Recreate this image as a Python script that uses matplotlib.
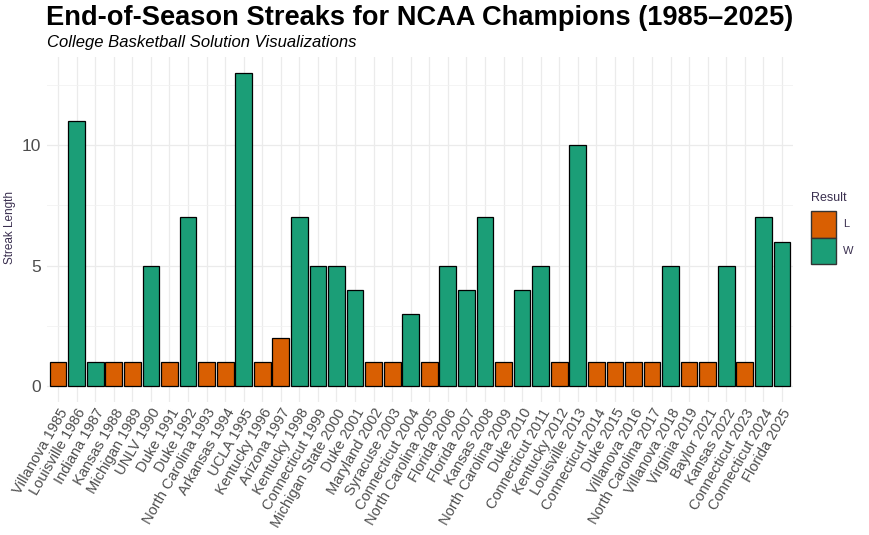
import matplotlib
matplotlib.use("Agg")
import matplotlib.pyplot as plt
from matplotlib.patches import Patch

plt.rcParams['font.family'] = ['Liberation Sans', 'DejaVu Sans']

teams = ["Villanova 1985", "Louisville 1986", "Indiana 1987", "Kansas 1988", "Michigan 1989",
         "UNLV 1990", "Duke 1991", "Duke 1992", "North Carolina 1993", "Arkansas 1994",
         "UCLA 1995", "Kentucky 1996", "Arizona 1997", "Kentucky 1998", "Connecticut 1999",
         "Michigan State 2000", "Duke 2001", "Maryland 2002", "Syracuse 2003", "Connecticut 2004",
         "North Carolina 2005", "Florida 2006", "Florida 2007", "Kansas 2008", "North Carolina 2009",
         "Duke 2010", "Connecticut 2011", "Kentucky 2012", "Louisville 2013", "Connecticut 2014",
         "Duke 2015", "Villanova 2016", "North Carolina 2017", "Villanova 2018", "Virginia 2019",
         "Baylor 2021", "Kansas 2022", "Connecticut 2023", "Connecticut 2024", "Florida 2025"]
streaks = [1, 11, 1, 1, 1, 5, 1, 7, 1, 1,
           13, 1, 2, 7, 5, 5, 4, 1, 1, 3,
           1, 5, 4, 7, 1, 4, 5, 1, 10, 1,
           1, 1, 1, 5, 1, 1, 5, 1, 7, 6]
results = ["L", "W", "W", "L", "L", "W", "L", "W", "L", "L",
           "W", "L", "L", "W", "W", "W", "W", "L", "L", "W",
           "L", "W", "W", "W", "L", "W", "W", "L", "W", "L",
           "L", "L", "L", "W", "L", "L", "W", "L", "W", "W"]
palette = {"L": "#D95F02", "W": "#1B9E77"}

fig = plt.figure(figsize=(8.69, 5.35), dpi=100)
ax = fig.add_axes([47/869, 1 - 402/535, (793-47)/869, (402-57)/535])

x = list(range(1, len(teams) + 1))
ax.bar(x, streaks, width=0.9, color=[palette[r] for r in results],
       edgecolor="black", linewidth=0.9, zorder=3)

ax.set_xlim(0.4, len(teams) + 0.6)
ax.set_ylim(-0.65, 13.65)
ax.set_yticks([0, 5, 10])
ax.set_yticks([2.5, 7.5, 12.5], minor=True)
ax.set_xticks(x)
ax.set_xticklabels(teams, rotation=60, ha="right", rotation_mode="anchor",
                   fontsize=10.5, color="#4D4D4D")
ax.tick_params(axis="y", labelsize=12.5, labelcolor="#4D4D4D", length=0, pad=4)
ax.tick_params(axis="x", length=0, pad=3)
ax.tick_params(which="minor", length=0)
ax.grid(True, which="major", color="#EBEBEB", linewidth=0.9, zorder=0)
ax.grid(True, which="minor", axis="y", color="#F2F2F2", linewidth=0.6, zorder=0)
for s in ax.spines.values():
    s.set_visible(False)

fig.text(10/869, 1 - 228/535, "Streak Length", rotation=90, ha="center", va="center",
         fontsize=8.5, color="#3A2F4F")

fig.text(46/869, 1 - 18/535, "End-of-Season Streaks for NCAA Champions (1985\u20132025)",
         fontsize=19.6, fontweight="bold", ha="left", va="center", color="black")
fig.text(47/869, 1 - 43/535, "College Basketball Solution Visualizations",
         fontsize=12, style="italic", ha="left", va="center", color="black")

handles = [Patch(facecolor=palette["L"], edgecolor="#333333", label="L"),
           Patch(facecolor=palette["W"], edgecolor="#333333", label="W")]
leg = fig.legend(handles=handles, title="Result", loc="upper left",
                 bbox_to_anchor=(811/869, 1 - 192/535), frameon=False,
                 fontsize=8, title_fontsize=9, handlelength=2.25, handleheight=3.3,
                 handletextpad=0.6, labelspacing=0.0, borderaxespad=0, borderpad=0)
leg._legend_box.align = "left"
leg._legend_box.sep = 5
leg.get_title().set_color("#3A2F4F")
for t in leg.get_texts():
    t.set_color("#3A2F4F")

fig.savefig("out.png", dpi=100)
